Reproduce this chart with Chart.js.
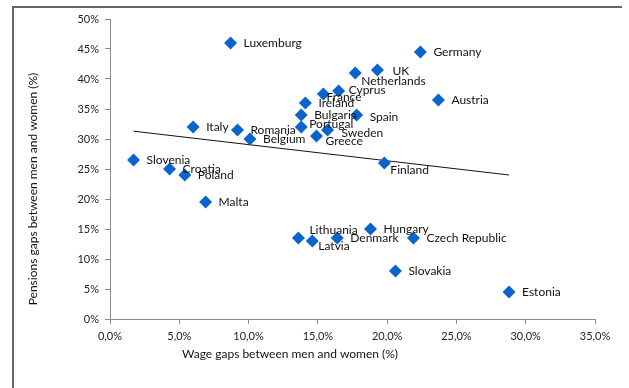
<!DOCTYPE html>
<html>
<head>
<meta charset="utf-8">
<script src="https://cdn.jsdelivr.net/npm/chart.js@4.4.1/dist/chart.umd.min.js"></script>
<style>
  body { margin: 0; background: #fff; }
  #wrap { position: relative; width: 629px; height: 388px; }
  #frame { position: absolute; left: 12px; top: 6px; width: 608px; height: 390px;
           border-left: 2px solid #666; border-top: 2px solid #666; }
  canvas { position: absolute; left: 0; top: 0; }
</style>
</head>
<body>
<div id="wrap">
  <div id="frame"></div>
  <canvas id="chart" width="629" height="388"></canvas>
</div>
<script>
// countries, wage gap (%) and pension gap (%)
var countries = ["Luxemburg", "Germany", "UK", "Netherlands", "Cyprus", "France", "Ireland", "Austria",
  "Bulgaria", "Spain", "Portugal", "Sweden", "Greece", "Finland", "Italy", "Romania", "Belgium",
  "Slovenia", "Croatia", "Poland", "Malta", "Lithuania", "Latvia", "Denmark", "Hungary",
  "Czech Republic", "Slovakia", "Estonia"];
var wageGap = [8.7, 22.4, 19.3, 17.7, 16.5, 15.4, 14.1, 23.7,
  13.8, 17.8, 13.8, 15.7, 14.9, 19.8, 6.0, 9.2, 10.1,
  1.7, 4.3, 5.4, 6.9, 13.6, 14.6, 16.4, 18.8,
  21.9, 20.6, 28.8];
var pensionGap = [46.0, 44.5, 41.5, 41.0, 38.0, 37.5, 36.0, 36.5,
  34.0, 34.0, 32.0, 31.5, 30.5, 26.0, 32.0, 31.5, 30.0,
  26.5, 25.0, 24.0, 19.5, 13.5, 13.0, 13.5, 15.0,
  13.5, 8.0, 4.5];
// linear trend line end points
var trendX = [1.7, 28.8];
var trendY = [31.3, 24.0];

var xTicks = [0, 5, 10, 15, 20, 25, 30, 35];
var yTicks = [0, 5, 10, 15, 20, 25, 30, 35, 40, 45, 50];

// where each label sits against its marker (pixels), default right of it
var labelNudge = {
  "UK": [15, 1], "Netherlands": [6, 8], "Cyprus": [10, -1], "France": [3, 3],
  "Spain": [13, 2], "Portugal": [8, -3], "Sweden": [14, 3], "Greece": [9, 5],
  "Finland": [6, 7], "Lithuania": [11, -8], "Latvia": [6, 5]
};

var points = [];
for (var i = 0; i < countries.length; i++) {
  points.push({ x: wageGap[i], y: pensionGap[i] });
}
var trend = [];
for (var j = 0; j < trendX.length; j++) {
  trend.push({ x: trendX[j], y: trendY[j] });
}

var labelFont = "12px Lato";
var axisColor = "#8a8a8a";

var countryLabels = {
  id: "countryLabels",
  afterDatasetsDraw: function (chart) {
    var ctx = chart.ctx;
    var meta = chart.getDatasetMeta(0);
    ctx.save();
    ctx.font = labelFont;
    ctx.fillStyle = "#111";
    ctx.textAlign = "left";
    ctx.textBaseline = "middle";
    meta.data.forEach(function (el, k) {
      var n = labelNudge[countries[k]] || [13, 0];
      ctx.fillText(countries[k], el.x + n[0], el.y + n[1]);
    });
    ctx.restore();
  }
};

// axis titles sit off-centre in the original, so they are drawn here
var axisTitles = {
  id: "axisTitles",
  afterDraw: function (chart) {
    var ctx = chart.ctx;
    var a = chart.chartArea;
    ctx.save();
    ctx.font = "12px Lato";
    ctx.fillStyle = "#111";
    ctx.textAlign = "center";
    ctx.textBaseline = "middle";
    ctx.fillText("Wage gaps between men and women (%)", a.left + 180, a.bottom + 35);
    ctx.translate(33, a.top + 170);
    ctx.rotate(-Math.PI / 2);
    ctx.fillText("Pensions gaps between men and women (%)", 0, 0);
    ctx.restore();
  }
};

var ctx = document.getElementById("chart").getContext("2d");
var chart = new Chart(ctx, {
  type: "scatter",
  data: {
    datasets: [
      {
        label: "Countries",
        data: points,
        pointStyle: "rectRot",
        pointRadius: 6.5,
        pointHoverRadius: 6.5,
        backgroundColor: "#0a64cc",
        borderColor: "#0a64cc",
        borderWidth: 0
      },
      {
        label: "Trend",
        data: trend,
        showLine: true,
        pointRadius: 0,
        borderColor: "#111",
        borderWidth: 1
      }
    ]
  },
  options: {
    responsive: false,
    animation: false,
    layout: { padding: { left: 0, right: 34, top: 19, bottom: 0 } },
    plugins: {
      legend: { display: false },
      tooltip: { enabled: false }
    },
    scales: {
      x: {
        type: "linear",
        min: 0,
        max: 35,
        afterBuildTicks: function (s) { s.ticks = xTicks.map(function (v) { return { value: v }; }); },
        afterFit: function (s) { s.height = 69; },
        grid: { drawOnChartArea: false, color: axisColor, tickLength: 5 },
        border: { color: axisColor },
        ticks: {
          padding: 6,
          color: "#222",
          font: { family: "Lato", size: 11 },
          callback: function (v) { return v.toFixed(1).replace(".", ",") + "%"; }
        }
      },
      y: {
        type: "linear",
        min: 0,
        max: 50,
        afterBuildTicks: function (s) { s.ticks = yTicks.map(function (v) { return { value: v }; }); },
        afterFit: function (s) { s.width = 110; },
        grid: { drawOnChartArea: false, color: axisColor, tickLength: 5 },
        border: { color: axisColor },
        ticks: {
          padding: 6,
          color: "#222",
          font: { family: "Lato", size: 11 },
          callback: function (v) { return v + "%"; }
        }
      }
    }
  },
  plugins: [countryLabels, axisTitles]
});
</script>
</body>
</html>
